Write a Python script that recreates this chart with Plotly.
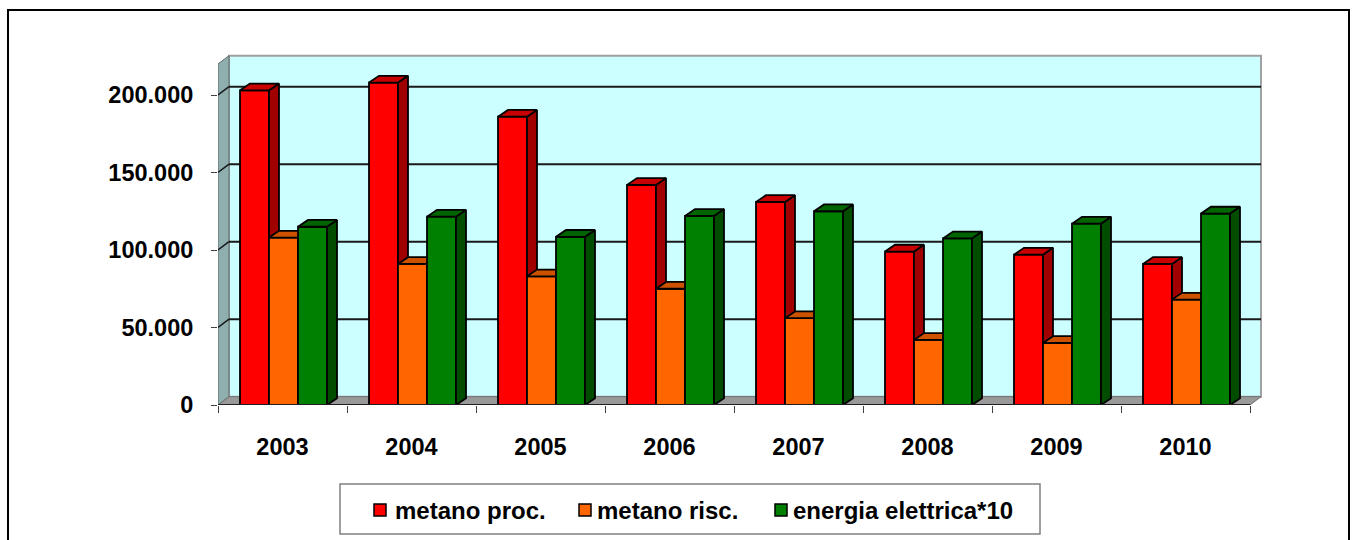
import plotly.graph_objects as go

# ---- data -------------------------------------------------------------
years = ["2003", "2004", "2005", "2006", "2007", "2008", "2009", "2010"]
metano_proc = [203000, 208000, 186000, 142000, 131000, 99000, 97000, 91000]
metano_risc = [108000, 91000, 83000, 75000, 56000, 42000, 40000, 68000]
energia_elettrica_x10 = [115000, 121500, 108500, 122000, 125000, 107500, 117000, 123500]
series_names = ["metano proc.", "metano risc.", "energia elettrica*10"]
y_tick_values = [0, 50000, 100000, 150000, 200000]
y_tick_labels = ["0", "50.000", "100.000", "150.000", "200.000"]
wall_top_value = 220000

# ---- styling / geometry -----------------------------------------------
W, H = 1357, 540
PLOT_L, PLOT_R, PLOT_T, PLOT_B = 218, 1265, 40, 405
CAT_PX = 129.0                      # pixels per category
UNITS_PER_PX = 50000 / 77.5         # value units per vertical pixel

x_range = [-0.5, -0.5 + (PLOT_R - PLOT_L) / CAT_PX]
y_range = [0, (PLOT_B - PLOT_T) * UNITS_PER_PX]

BAR_W = 29 / CAT_PX
GROUP_OFFSET = 22 / CAT_PX - 0.5
BAR_DX = 10 / CAT_PX
BAR_DY = 6.8 * UNITS_PER_PX
WALL_DX = 11 / CAT_PX
WALL_DY = 8.3 * UNITS_PER_PX

face_colors = [
    # front, side, top
    ("#FF0000", "#A00000", "#C80000"),
    ("#FF6600", "#993D00", "#CC5200"),
    ("#008000", "#004D00", "#006400"),
]
FONT = "Arial, 'Liberation Sans', sans-serif"
TICK_FONT = dict(family=FONT, size=23.5, color="black", weight="bold")
LEGEND_FONT = dict(family=FONT, size=24, color="black", weight="bold")

# legend layout (pixel positions of swatch left edges and label starts)
legend_swatch_px = [374, 579, 775]
legend_text_px = [393, 595, 791]
legend_center_px = 510

series_values = [metano_proc, metano_risc, energia_elettrica_x10]
n_cat = len(years)
x_left_end, x_right_end = -0.5, n_cat - 0.5


def px_x(p):
    return (p - PLOT_L) / (PLOT_R - PLOT_L)


def px_y(p):
    return (PLOT_B - p) / (PLOT_B - PLOT_T)


fig = go.Figure()

# ---- 3-D columns: front, side and top faces ----------------------------
for s, values in enumerate(series_values):
    front_x, front_y, side_x, side_y, top_x, top_y = [], [], [], [], [], []
    for i, v in enumerate(values):
        xl = i + GROUP_OFFSET + s * BAR_W
        xr = xl + BAR_W
        front_x += [xl, xr, xr, xl, xl, None]
        front_y += [0, 0, v, v, 0, None]
        side_x += [xr, xr + BAR_DX, xr + BAR_DX, xr, xr, None]
        side_y += [0, BAR_DY, v + BAR_DY, v, 0, None]
        top_x += [xl, xr, xr + BAR_DX, xl + BAR_DX, xl, None]
        top_y += [v, v, v + BAR_DY, v + BAR_DY, v, None]
    for k, (xs, ys, col) in enumerate(((front_x, front_y, face_colors[s][0]),
                                       (side_x, side_y, face_colors[s][1]),
                                       (top_x, top_y, face_colors[s][2]))):
        fig.add_trace(go.Scatter(
            x=xs, y=ys, mode="lines", fill="toself", fillcolor=col,
            line=dict(color="black", width=1.8), connectgaps=False,
            name=series_names[s], legendgroup=series_names[s],
            hoverinfo="skip", showlegend=False))

# ---- walls, floor and gridlines ---------------------------------------
shapes = []
# back wall
shapes.append(dict(type="rect", xref="x", yref="y", layer="below",
                   x0=x_left_end + WALL_DX, x1=x_right_end + WALL_DX,
                   y0=WALL_DY, y1=wall_top_value + WALL_DY,
                   fillcolor="#CCFFFF", line=dict(color="#A0A0A0", width=2)))
# side wall
shapes.append(dict(type="path", xref="x", yref="y", layer="below",
                   path=(f"M{x_left_end},0 L{x_left_end},{wall_top_value} "
                         f"L{x_left_end + WALL_DX},{wall_top_value + WALL_DY} "
                         f"L{x_left_end + WALL_DX},{WALL_DY} Z"),
                   fillcolor="#8FAFAF", line=dict(color="#5A6A6A", width=1)))
# floor
shapes.append(dict(type="path", xref="x", yref="y", layer="below",
                   path=(f"M{x_left_end},0 L{x_right_end},0 "
                         f"L{x_right_end + WALL_DX},{WALL_DY} "
                         f"L{x_left_end + WALL_DX},{WALL_DY} Z"),
                   fillcolor="#999999", line=dict(color="#707070", width=1)))
# gridlines on back and side wall
for v in y_tick_values[1:]:
    shapes.append(dict(type="line", xref="x", yref="y", layer="below",
                       x0=x_left_end + WALL_DX, x1=x_right_end + WALL_DX,
                       y0=v + WALL_DY, y1=v + WALL_DY,
                       line=dict(color="#1A1A1A", width=2)))
    shapes.append(dict(type="line", xref="x", yref="y", layer="below",
                       x0=x_left_end, x1=x_left_end + WALL_DX,
                       y0=v, y1=v + WALL_DY,
                       line=dict(color="#1A1A1A", width=1.5)))
# front edge of the floor
shapes.append(dict(type="line", xref="x", yref="y", layer="above",
                   x0=x_left_end, x1=x_right_end, y0=0, y1=0,
                   line=dict(color="#202020", width=2)))
# legend frame
shapes.append(dict(type="rect", xref="paper", yref="paper", layer="above",
                   x0=px_x(340), x1=px_x(1040), y0=px_y(534), y1=px_y(484),
                   fillcolor="rgba(0,0,0,0)", line=dict(color="#808080", width=1.5)))
# legend swatches and labels
annotations = []
for s, name in enumerate(series_names):
    x0 = legend_swatch_px[s]
    shapes.append(dict(type="rect", xref="paper", yref="paper", layer="above",
                       x0=px_x(x0), x1=px_x(x0 + 12),
                       y0=px_y(legend_center_px + 6), y1=px_y(legend_center_px - 6),
                       fillcolor=face_colors[s][0],
                       line=dict(color="black", width=1.5)))
    annotations.append(dict(xref="paper", yref="paper", showarrow=False,
                            x=px_x(legend_text_px[s]), y=px_y(legend_center_px),
                            xanchor="left", yanchor="middle", text=name,
                            font=LEGEND_FONT))
# chart frame
shapes.append(dict(type="rect", xref="paper", yref="paper", layer="above",
                   x0=px_x(8), x1=px_x(1349), y0=px_y(560), y1=px_y(10),
                   fillcolor="rgba(0,0,0,0)", line=dict(color="black", width=2)))

fig.update_layout(
    width=W, height=H,
    margin=dict(l=PLOT_L, r=W - PLOT_R, t=PLOT_T, b=H - PLOT_B),
    paper_bgcolor="white", plot_bgcolor="rgba(0,0,0,0)",
    shapes=shapes, annotations=annotations,
    showlegend=False,
    xaxis=dict(range=x_range, showgrid=False, zeroline=False, showline=False,
               tickmode="array", tickvals=list(range(n_cat)), ticktext=years,
               ticks="", ticklabelstandoff=25, tickfont=TICK_FONT,
               minor=dict(tickmode="array",
                          tickvals=[k - 0.5 for k in range(n_cat + 1)],
                          ticks="outside", ticklen=7, tickcolor="#404040",
                          tickwidth=1, showgrid=False),
               fixedrange=True),
    yaxis=dict(range=y_range, showgrid=False, zeroline=False, showline=False,
               tickmode="array", tickvals=y_tick_values, ticktext=y_tick_labels,
               ticks="outside", ticklen=6, tickcolor="#404040", tickwidth=1,
               ticklabelstandoff=13, tickfont=TICK_FONT,
               fixedrange=True),
)

fig.write_html("out.html")
